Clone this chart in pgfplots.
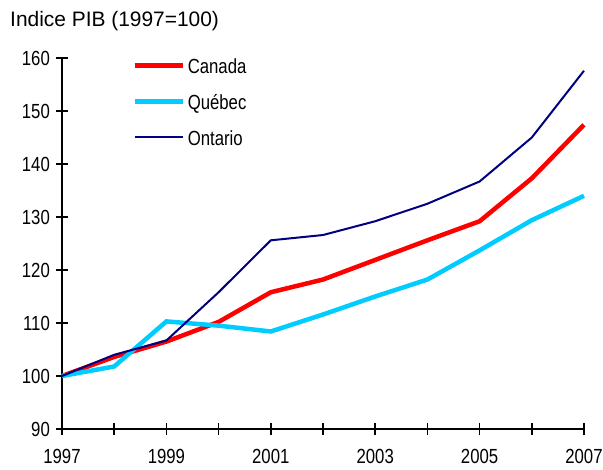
\documentclass[border=0pt]{standalone}
\usepackage{fontspec}
\setmainfont{Liberation Sans}
\newfontfamily\narrow[FakeStretch=0.82]{Liberation Sans}
\usepackage{pgfplots}
\pgfplotsset{compat=1.18}
\definecolor{cred}{RGB}{255,0,0}
\definecolor{ccyan}{RGB}{0,204,255}
\definecolor{cnavy}{RGB}{0,0,128}
\begin{document}
\begin{tikzpicture}
\useasboundingbox (-62bp,-41bp) rectangle (541bp,429bp);
\begin{axis}[
  scale only axis,
  width=522bp, height=371bp,
  xmin=1997, xmax=2007, ymin=90, ymax=160,
  axis x line*=bottom, axis y line*=left,
  axis line style={black, line width=1.5bp, -},
  xtick={1997,1998,1999,2000,2001,2002,2003,2004,2005,2006,2007},
  xticklabels={1997,,1999,,2001,,2003,,2005,,2007},
  ytick={90,100,110,120,130,140,150,160},
  yticklabels={90,100,110,120,130,140,150,160},
  tick align=center,
  major tick length=12bp,
  tick style={black, line width=1.5bp},
  ticklabel style={font=\narrow\fontsize{20.5}{24}\selectfont},
  xticklabel style={inner sep=0pt, anchor=north, yshift=-14bp},
  yticklabel style={inner sep=0pt, anchor=east, xshift=-6bp},
  clip=false,
  legend style={draw=none, fill=none, at={(rel axis cs:0.1285,1.002)}, anchor=north west,
    font=\narrow\fontsize{20.5}{24}\selectfont,
    nodes={inner sep=0pt, text height=14bp, text depth=0bp},
    row sep=22bp, column sep=3bp},
  legend cell align=left,
  legend image code/.code={\draw[#1] (0bp,1bp) -- (48bp,1bp);},
]
\addplot[cred, line width=4.5bp] coordinates {
(1997,100) (1998,103.6) (1999,106.5) (2000,110.2) (2001,115.8) (2002,118.2)
(2003,121.9) (2004,125.6) (2005,129.2) (2006,137.3) (2007,147.4)};
\addlegendentry{Canada}
\addplot[ccyan, line width=4.5bp] coordinates {
(1997,100) (1998,101.8) (1999,110.3) (2000,109.5) (2001,108.4) (2002,111.6)
(2003,115.0) (2004,118.2) (2005,123.7) (2006,129.4) (2007,134.0)};
\addlegendentry{Québec}
\addplot[cnavy, line width=2bp] coordinates {
(1997,100) (1998,104.0) (1999,106.7) (2000,115.8) (2001,125.6) (2002,126.6)
(2003,129.2) (2004,132.5) (2005,136.7) (2006,145.0) (2007,157.6)};
\addlegendentry{Ontario}
\end{axis}
\node[anchor=base west, inner sep=0pt, font=\fontsize{21}{25}\selectfont] at (-52bp,402bp) {Indice PIB (1997=100)};
\end{tikzpicture}
\end{document}
